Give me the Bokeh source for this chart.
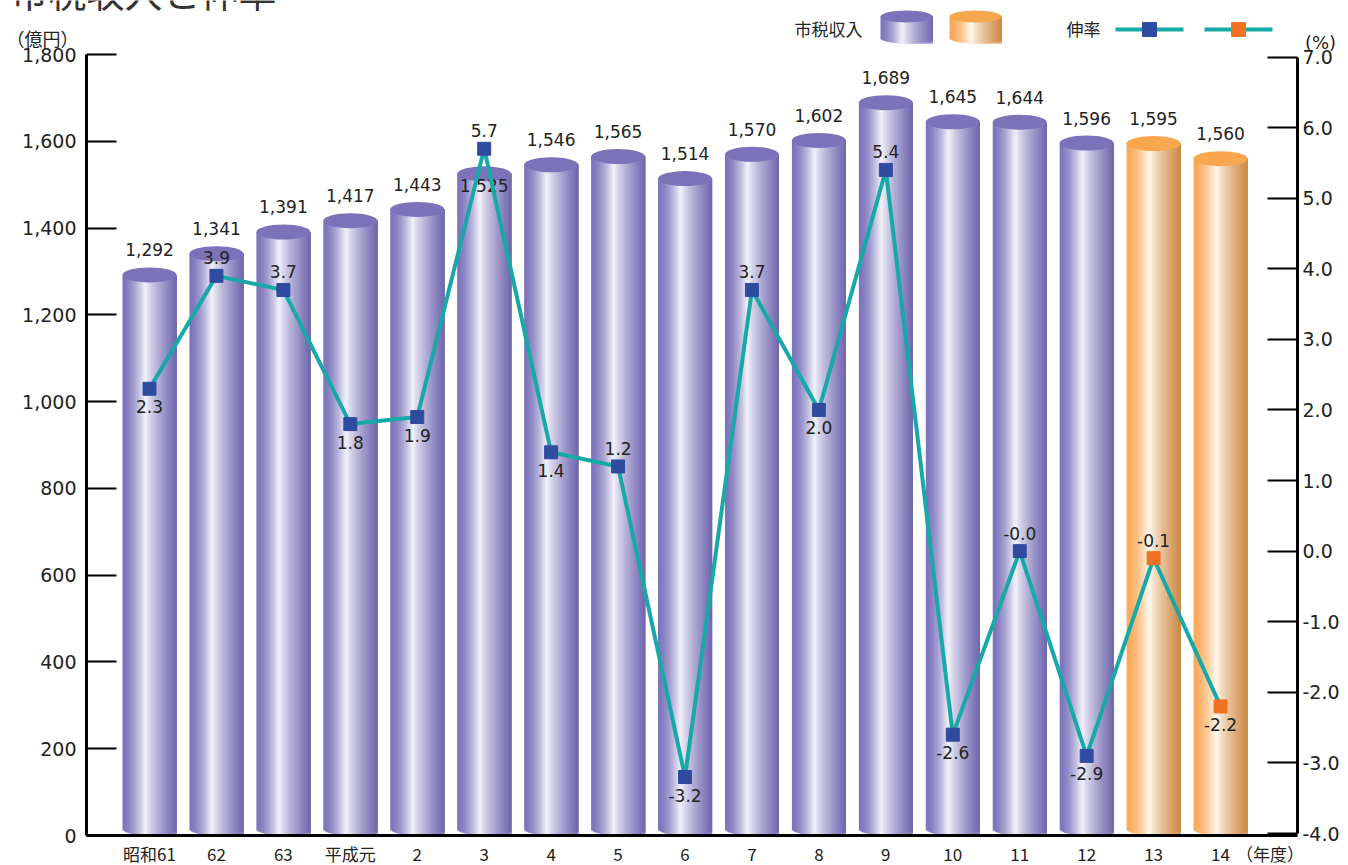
import math
from bokeh.plotting import figure
from bokeh.models import (Range1d, LinearAxis, FixedTicker, NumeralTickFormatter,
                          ColumnDataSource)
from bokeh.core.properties import value
from bokeh.embed import file_html
from bokeh.resources import INLINE

# ---------------- data ----------------
years = ["昭和61", "62", "63", "平成元", "2", "3", "4", "5", "6", "7",
         "8", "9", "10", "11", "12", "13", "14"]
revenue = [1292, 1341, 1391, 1417, 1443, 1525, 1546, 1565, 1514, 1570,
           1602, 1689, 1645, 1644, 1596, 1595, 1560]          # 億円
growth = [2.3, 3.9, 3.7, 1.8, 1.9, 5.7, 1.4, 1.2, -3.2, 3.7,
          2.0, 5.4, -2.6, -0.0, -2.9, -0.1, -2.2]             # %
n_actual = 15  # the last two years are drawn in orange
growth_label_side = ["below", "above", "above", "below", "below", "above",
                     "below", "above", "below", "above", "below", "above",
                     "below", "above", "below", "above", "below"]
left_ticks = [0, 200, 400, 600, 800, 1000, 1200, 1400, 1600, 1800]
right_ticks = [-4, -3, -2, -1, 0, 1, 2, 3, 4, 5, 6, 7]
unit_label = "（年度）"
title_text = "市税収入と伸率"

# ---------------- geometry (whole canvas is the plot frame) ----------------
W, H = 1346, 864
PX_X = 66.94            # px per category
PX_L = 781.0 / 1800.0   # px per 億円
PX_R = 70.59            # px per %
X_ZERO, Y_ZERO, Y_RZERO = 149, 835, 833 - 4 * PX_R  # image px of x=0, 億円=0, %=0


def dx(img_x):
    return (img_x - X_ZERO) / PX_X


def dy(img_y):
    return (Y_ZERO - img_y) / PX_L


def dr(img_y):
    return (Y_RZERO - img_y) / PX_R


x_range = Range1d(dx(0), dx(W))
y_range = Range1d(dy(H), dy(0))
pct_range = Range1d(dr(H), dr(0))

NUM_FONT = "DejaVu Sans"
JP_FONT = "Noto Sans CJK JP"

p = figure(width=W, height=H, x_range=x_range, y_range=y_range,
           output_backend="svg", toolbar_location=None, tools="",
           min_border=0, min_border_left=0, min_border_right=0,
           min_border_top=0, min_border_bottom=0)
p.extra_y_ranges = {"pct": pct_range}
p.outline_line_color = None
p.xgrid.visible = False
p.ygrid.visible = False
p.background_fill_color = "white"
p.border_fill_color = "white"

# ---------------- cylinders ----------------
PURPLE = dict(left=(124, 116, 187), mid=(244, 244, 251), right=(110, 101, 174), top="#7b72b9")
ORANGE = dict(left=(250, 168, 88), mid=(255, 250, 240), right=(204, 136, 66), top="#f9a74f")


def shade(t, pal, t0=0.42):
    if t < t0:
        s = (t / t0) ** 1.6
        a, b = pal["left"], pal["mid"]
    else:
        s = ((t - t0) / (1 - t0)) ** 0.8
        a, b = pal["mid"], pal["right"]
    c = [round(a[i] + (b[i] - a[i]) * s) for i in range(3)]
    return "#%02x%02x%02x" % tuple(c)


strips = dict(left=[], right=[], top=[], bottom=[], color=[])
tops = dict(x=[], y=[], w=[], h=[], color=[])


def cylinder(xc, y_top, y_base, half_w, ell_h, pal, n=36):
    step = 2 * half_w / n
    for k in range(n):
        t = (k + 0.5) / n
        u = 2 * t - 1
        x_l = xc - half_w + k * step
        # each strip reaches on to the right edge so no seam shows between strips
        strips["left"].append(x_l)
        strips["right"].append(xc + half_w if k < n - 1 else x_l + step)
        strips["top"].append(y_top)
        uu = min(1.0, abs(2 * (k / n) - 1), abs(2 * ((k + 1) / n) - 1))
        strips["bottom"].append(y_base + ell_h / 2 * (1 - math.sqrt(max(0.0, 1 - uu * uu))))
        strips["color"].append(shade(t, pal))
    tops["x"].append(xc)
    tops["y"].append(y_top)
    tops["w"].append(2 * half_w)
    tops["h"].append(ell_h)
    tops["color"].append(pal["top"])


BAR_HALF = 27 / PX_X
BAR_ELL = 15 / PX_L
for i, v in enumerate(revenue):
    cylinder(i, v, 0, BAR_HALF, BAR_ELL, PURPLE if i < n_actual else ORANGE)

# legend cylinders
LEG_HALF = 26 / PX_X
LEG_ELL = 12 / PX_L
cylinder(dx(906), dy(16), dy(43), LEG_HALF, LEG_ELL, PURPLE)
cylinder(dx(975), dy(16), dy(43), LEG_HALF, LEG_ELL, ORANGE)

p.quad(left="left", right="right", top="top", bottom="bottom", fill_color="color",
       line_color=None, source=ColumnDataSource(strips))
p.ellipse(x="x", y="y", width="w", height="h", fill_color="color",
          line_color=None, source=ColumnDataSource(tops))

# bar value labels
bar_lbl = ColumnDataSource(dict(
    x=list(range(len(revenue))), y=revenue,
    text=[f"{v:,}" for v in revenue],
    off=[12 if (i == growth.index(max(growth))) else -25 for i in range(len(revenue))]))
p.text(x="x", y="y", text="text", y_offset="off", source=bar_lbl,
       text_align="center", text_baseline="middle", text_font=value(NUM_FONT),
       text_font_size="17px", text_color="#222222")

# ---------------- growth line ----------------
TEAL = "#16a9a8"
BLUE = "#2f4b9f"
ORANGE_M = "#f07122"
xs = list(range(len(growth)))
p.line(xs, growth, y_range_name="pct", line_color=TEAL, line_width=4)
mk = ColumnDataSource(dict(x=xs, y=growth,
                           color=[BLUE if i < n_actual else ORANGE_M for i in xs]))
p.scatter(x="x", y="y", marker="square", size=13, fill_color="color",
          line_color="color", y_range_name="pct", source=mk)
gl = ColumnDataSource(dict(x=xs, y=growth, text=[f"{g:.1f}" for g in growth],
                           off=[-18 if s == "above" else 18 for s in growth_label_side]))
p.text(x="x", y="y", text="text", y_offset="off", y_range_name="pct", source=gl,
       text_align="center", text_baseline="middle", text_font=value(NUM_FONT),
       text_font_size="17px", text_color="#222222")

# ---------------- legend, title, units ----------------
def txt(img_x, img_y, s, align, font, size, baseline="middle", color="#222222"):
    p.text(x=[dx(img_x)], y=[dy(img_y)], text=[s], text_align=align,
           text_baseline=baseline, text_font=value(font), text_font_size=size,
           text_color=color)


txt(862, 28, "市税収入", "right", JP_FONT, "17px")
txt(1100, 28, "伸率", "right", JP_FONT, "17px")
for (a, b, c, col) in [(1115, 1183, 1149, BLUE), (1204, 1272, 1238, ORANGE_M)]:
    p.line([dx(a), dx(b)], [dy(29), dy(29)], line_color=TEAL, line_width=4)
    p.scatter([dx(c)], [dy(29)], marker="square", size=14, fill_color=col, line_color=col)

txt(10, 17, title_text, "left", JP_FONT, "38px", baseline="bottom", color="#333333")
txt(42, 37, "（億円）", "center", JP_FONT, "18px")
txt(1320, 42, "(%)", "center", NUM_FONT, "18px")

# ---------------- axes (fixed inside the full-canvas frame) ----------------
ax_l = p.yaxis[0]
ax_l.ticker = FixedTicker(ticks=left_ticks)
ax_l.formatter = NumeralTickFormatter(format="0,0")
ax_l.bounds = (0, 1800)
ax_l.fixed_location = dx(86)
ax_r = LinearAxis(y_range_name="pct", ticker=FixedTicker(ticks=right_ticks),
                  formatter=NumeralTickFormatter(format="0.0"), bounds=(-4, 7),
                  fixed_location=dx(1297))
p.add_layout(ax_r, "right")
for ax, stand in [(ax_l, 10), (ax_r, 5)]:
    ax.major_tick_in = 30
    ax.major_tick_out = 0
    ax.minor_tick_line_color = None
    ax.axis_line_width = 3
    ax.axis_line_color = "black"
    ax.major_tick_line_width = 2
    ax.major_tick_line_color = "black"
    ax.major_label_text_font = NUM_FONT
    ax.major_label_text_font_size = "19px"
    ax.major_label_text_color = "#222222"
    ax.major_label_standoff = stand

ax_x = p.xaxis[0]
x_ticks = list(range(len(years))) + [len(years) - 1 + 0.74]
ax_x.ticker = FixedTicker(ticks=x_ticks)
overrides = {i: y for i, y in enumerate(years)}
overrides[x_ticks[-1]] = unit_label
ax_x.major_label_overrides = overrides
ax_x.fixed_location = 0
ax_x.bounds = (dx(86), dx(1297))
ax_x.major_tick_in = 0
ax_x.major_tick_out = 0
ax_x.minor_tick_line_color = None
ax_x.axis_line_width = 3
ax_x.axis_line_color = "black"
ax_x.major_label_text_font = JP_FONT
ax_x.major_label_text_font_size = "17px"
ax_x.major_label_text_color = "#222222"
ax_x.major_label_standoff = 5

open("out.html", "w").write(file_html(p, INLINE))
